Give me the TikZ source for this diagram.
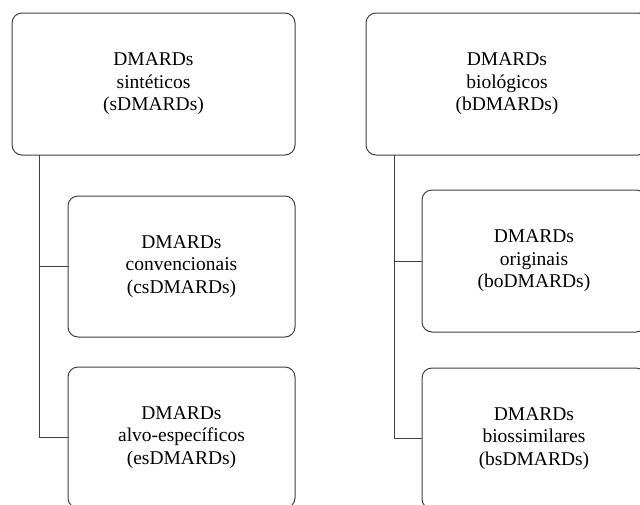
\documentclass[tikz,border=0pt]{standalone}
\usepackage{fontspec}
\setmainfont{Liberation Serif}
\begin{document}
\begin{tikzpicture}[x=1pt,y=-1pt,
  box/.style={draw=black!75, line width=1pt, rounded corners=10pt, fill=white,
    align=center, inner sep=0pt, outer sep=0pt, rectangle,
    font=\fontsize{19.5}{22.5}\selectfont},
  link/.style={draw=black!75, line width=1pt}]
\useasboundingbox (0,0) rectangle (640,504);
\clip (0,0) rectangle (640,504);
\node[box, minimum width=283pt, minimum height=142pt] (A) at (153.5,84) {DMARDs\\sintéticos\\(sDMARDs)};
\node[box, minimum width=227pt, minimum height=141pt] (A1) at (181.5,266.5) {DMARDs\\convencionais\\(csDMARDs)};
\node[box, minimum width=227pt, minimum height=141pt] (A2) at (181.5,437.5) {DMARDs\\alvo-específicos\\(esDMARDs)};
\node[box, minimum width=282pt, minimum height=142pt] (B) at (507,84) {DMARDs\\biológicos\\(bDMARDs)};
\node[box, minimum width=224pt, minimum height=142pt] (B1) at (534,261) {DMARDs\\originais\\(boDMARDs)};
\node[box, minimum width=224pt, minimum height=141pt] (B2) at (534,438.5) {DMARDs\\biossimilares\\(bsDMARDs)};
% connectors
\coordinate (ta) at ([xshift=27pt]A.south west);
\coordinate (tb) at ([xshift=28pt]B.south west);
\draw[link] (ta) |- (A2.west);
\draw[link] (ta |- A1.west) -- (A1.west);
\draw[link] (tb) |- (B2.west);
\draw[link] (tb |- B1.west) -- (B1.west);
\end{tikzpicture}
\end{document}
